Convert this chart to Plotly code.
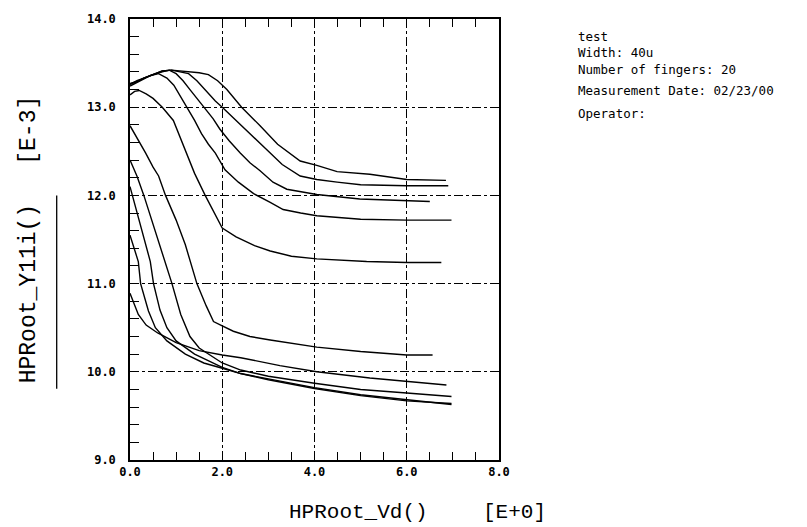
import plotly.graph_objects as go

# ---- data (Vd in V, Y11 imag in E-3) ----
vd_a = [0, 0.15, 0.3, 0.5, 0.7, 0.9, 1.1, 1.3, 1.5, 1.7, 1.9, 2.1, 2.42, 2.82, 3.2, 3.69, 4.05, 4.49, 5.2, 6.0, 6.85]
y_a = [13.27, 13.29, 13.33, 13.37, 13.41, 13.42, 13.41, 13.40, 13.39, 13.37, 13.3, 13.2, 13.0, 12.79, 12.58, 12.39, 12.34, 12.27, 12.24, 12.18, 12.17]

vd_b = [0, 0.15, 0.3, 0.5, 0.7, 0.9, 1.1, 1.27, 1.45, 1.65, 1.85, 2.0, 2.2, 2.39, 2.7, 2.97, 3.3, 3.69, 4.05, 4.49, 5.0, 6.0, 6.9]
y_b = [13.26, 13.29, 13.33, 13.37, 13.41, 13.42, 13.4, 13.38, 13.3, 13.18, 13.07, 13.0, 12.9, 12.8, 12.65, 12.52, 12.35, 12.22, 12.18, 12.15, 12.12, 12.11, 12.11]

vd_c = [0, 0.15, 0.3, 0.5, 0.7, 0.85, 1.0, 1.15, 1.3, 1.45, 1.62, 1.8, 1.95, 2.15, 2.39, 2.6, 2.82, 3.1, 3.4, 4.05, 4.98, 6.0, 6.5]
y_c = [13.26, 13.3, 13.33, 13.37, 13.4, 13.42, 13.38, 13.3, 13.2, 13.1, 13.0, 12.87, 12.75, 12.62, 12.48, 12.37, 12.28, 12.15, 12.07, 12.01, 11.96, 11.94, 11.93]

vd_d = [0, 0.15, 0.3, 0.45, 0.62, 0.8, 0.95, 1.1, 1.24, 1.4, 1.55, 1.7, 1.85, 2.06, 2.35, 2.68, 3.04, 3.32, 3.7, 4.05, 5.0, 6.0, 6.97]
y_d = [13.24, 13.28, 13.32, 13.36, 13.38, 13.33, 13.25, 13.12, 13.0, 12.85, 12.7, 12.58, 12.48, 12.29, 12.15, 12.02, 11.92, 11.84, 11.8, 11.77, 11.73, 11.72, 11.72]

vd_e = [0, 0.1, 0.2, 0.35, 0.5, 0.7, 0.94, 1.2, 1.4, 1.63, 1.85, 2.0, 2.3, 2.7, 3.04, 3.5, 4.05, 5.13, 6.0, 6.75]
y_e = [13.14, 13.18, 13.19, 13.15, 13.1, 13.0, 12.85, 12.5, 12.25, 12.0, 11.78, 11.63, 11.53, 11.43, 11.37, 11.31, 11.28, 11.25, 11.24, 11.24]

vd_f = [0, 0.15, 0.34, 0.5, 0.62, 0.77, 1.0, 1.2, 1.45, 1.65, 1.81, 2.0, 2.24, 2.6, 3.04, 4.05, 5.0, 6.0, 6.56]
y_f = [12.79, 12.66, 12.48, 12.32, 12.22, 12.0, 11.72, 11.44, 11.0, 10.75, 10.57, 10.52, 10.46, 10.4, 10.36, 10.28, 10.23, 10.19, 10.19]

vd_g = [0, 0.1, 0.18, 0.35, 0.6, 1.0, 1.5, 2.0, 2.4, 3.25, 4.05, 5.2, 6.0, 6.86]
y_g = [10.89, 10.75, 10.65, 10.53, 10.44, 10.33, 10.24, 10.19, 10.16, 10.07, 10.0, 9.93, 9.89, 9.85]

vd_h = [0, 0.15, 0.3, 0.55, 0.77, 0.91, 1.1, 1.3, 1.5, 2.0, 2.4, 3.0, 4.0, 5.0, 6.0, 6.97]
y_h = [12.4, 12.22, 12.0, 11.6, 11.25, 11.0, 10.65, 10.4, 10.27, 10.1, 10.02, 9.95, 9.87, 9.8, 9.76, 9.72]

vd_i = [0, 0.05, 0.25, 0.44, 0.51, 0.65, 0.8, 1.0, 1.4, 2.0, 2.4, 3.0, 4.0, 5.0, 6.0, 6.97]
y_i = [12.1, 12.0, 11.6, 11.25, 11.0, 10.7, 10.5, 10.35, 10.2, 10.05, 9.98, 9.92, 9.82, 9.74, 9.68, 9.63]

vd_j = [0, 0.1, 0.18, 0.23, 0.4, 0.55, 0.8, 1.2, 1.6, 2.0, 2.4, 3.0, 4.0, 5.0, 6.0, 6.97]
y_j = [11.55, 11.38, 11.25, 11.0, 10.69, 10.5, 10.35, 10.2, 10.1, 10.04, 9.98, 9.91, 9.81, 9.73, 9.67, 9.64]

x_title = "HPRoot_Vd()"
x_unit = "[E+0]"
y_title = "HPRoot_Y11i()"
y_unit = "[E-3]"
info_block = ["test", "Width: 40u", "Number of fingers: 20"]
info_date = "Measurement Date: 02/23/00"
info_operator = "Operator:"

series = [(vd_a, y_a), (vd_b, y_b), (vd_c, y_c), (vd_d, y_d), (vd_e, y_e),
          (vd_f, y_f), (vd_g, y_g), (vd_h, y_h), (vd_i, y_i), (vd_j, y_j)]

fig = go.Figure()
for xs, ys in series:
    fig.add_trace(go.Scatter(x=xs, y=ys, mode="lines",
                             line=dict(color="black", width=1.4),
                             showlegend=False, hoverinfo="skip"))

W, H = 807, 527
L, R, T, B = 129.5, 499.5, 15, 460

tickfont = dict(family="DejaVu Sans Mono", size=12, color="black", weight="bold")
fig.update_layout(
    width=W, height=H,
    margin=dict(l=L, r=W - R, t=T, b=H - B),
    paper_bgcolor="white", plot_bgcolor="white",
    showlegend=False,
    xaxis=dict(range=[0, 8], dtick=2, tick0=0, tickformat=".1f",
               ticks="inside", ticklen=8, tickwidth=1.3, tickcolor="black",
               minor=dict(dtick=0.5, ticks="inside", ticklen=8, tickwidth=1.3,
                          tickcolor="black", showgrid=False),
               showline=True, linecolor="black", linewidth=1.5, mirror="ticks",
               showgrid=True, gridcolor="black", gridwidth=1.2, griddash="dashdot",
               zeroline=False, tickfont=tickfont, ticklabelstandoff=0),
    yaxis=dict(range=[9, 14], dtick=1, tick0=9, tickformat=".1f",
               ticks="inside", ticklen=9, tickwidth=1.3, tickcolor="black",
               minor=dict(dtick=0.2, ticks="inside", ticklen=9, tickwidth=1.3,
                          tickcolor="black", showgrid=False),
               showline=True, linecolor="black", linewidth=1.5, mirror=True,
               showgrid=True, gridcolor="black", gridwidth=1.2, griddash="dashdot",
               zeroline=False, tickfont=tickfont, ticklabelstandoff=10),
)

pw, ph = R - L, B - T
def px(xp):
    return (xp - L) / pw
def py(yp):
    return (B - yp) / ph

xfont = dict(family="Liberation Mono", size=21, color="black")
yfont = dict(family="Liberation Mono", size=23, color="black")
anns = [
    dict(text=x_title, x=px(287), y=py(513), xanchor="left", yanchor="middle", font=xfont),
    dict(text=x_unit, x=px(481), y=py(513), xanchor="left", yanchor="middle", font=xfont),
    dict(text=y_title, x=px(28), y=py(292), xanchor="center", yanchor="middle", textangle=-90, font=yfont),
    dict(text=y_unit, x=px(28), y=py(127), xanchor="center", yanchor="middle", textangle=-90, font=yfont),
]
for a in anns:
    a.update(xref="paper", yref="paper", showarrow=False)
    fig.add_annotation(**a)

infofont = dict(family="DejaVu Sans Mono", size=12.5, color="black")
fig.add_annotation(text="<br>".join(info_block), x=px(577), y=py(49), xref="paper", yref="paper",
                   xanchor="left", yanchor="middle", align="left", showarrow=False, font=infofont)
fig.add_annotation(text=info_date, x=px(577), y=py(87), xref="paper", yref="paper",
                   xanchor="left", yanchor="middle", showarrow=False, font=infofont)
fig.add_annotation(text=info_operator, x=px(577), y=py(110), xref="paper", yref="paper",
                   xanchor="left", yanchor="middle", showarrow=False, font=infofont)

fig.add_shape(type="line", xref="paper", yref="paper",
              x0=px(56), x1=px(56), y0=py(193), y1=py(388),
              line=dict(color="black", width=1.3))

fig.write_html("out.html")
